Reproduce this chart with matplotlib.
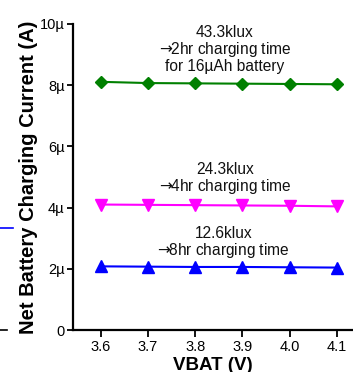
import matplotlib
matplotlib.use("Agg")
import matplotlib.pyplot as plt
from matplotlib.lines import Line2D

plt.rcParams['font.family'] = ['Liberation Sans', 'DejaVu Sans']
plt.rcParams['mathtext.fontset'] = 'dejavusans'

vbat = [3.6, 3.7, 3.8, 3.9, 4.0, 4.1]
i_433 = [8.11, 8.07, 8.06, 8.05, 8.04, 8.03]   # µA
i_243 = [4.10, 4.09, 4.08, 4.07, 4.06, 4.04]
i_126 = [2.08, 2.07, 2.06, 2.06, 2.05, 2.04]
xticks = [3.6, 3.7, 3.8, 3.9, 4.0, 4.1]
xtick_labels = ["3.6", "3.7", "3.8", "3.9", "4.0", "4.1"]
yticks = [0, 2, 4, 6, 8, 10]
ytick_labels = ["0", "2µ", "4µ", "6µ", "8µ", "10µ"]
notes = ["43.3klux\n$\\!\\rightarrow\\!\\!$2hr charging time\nfor 16µAh battery",
         "24.3klux\n$\\!\\rightarrow\\!\\!$4hr charging time",
         "12.6klux\n$\\!\\rightarrow\\!\\!$8hr charging time"]
note_pos = [(3.863, 9.17), (3.863, 4.92), (3.86, 2.83)]

fig = plt.figure(figsize=(3.53, 3.72), dpi=100)
ax = fig.add_axes([73/353, 1-330/372, 1-73/353, (330-24)/372])

ax.plot(vbat, i_433, color='#008000', lw=1.5, marker='D', ms=6.5, clip_on=False)
ax.plot(vbat, i_243, color='#FF00FF', lw=1.5, marker='v', ms=8, clip_on=False)
ax.plot(vbat, i_126, color='#0000FF', lw=1.5, marker='^', ms=8, clip_on=False)

for txt, (x, y) in zip(notes, note_pos):
    ax.text(x, y, txt, ha='center', va='center', multialignment='center',
            fontsize=11.2, linespacing=1.0, color='#111111')

ax.set_xlim(3.541, 4.1345)
ax.set_ylim(0, 10)
ax.set_xticks(xticks)
ax.set_xticklabels(xtick_labels)
ax.set_yticks(yticks)
ax.set_yticklabels(ytick_labels)
ax.tick_params(axis='x', length=5, width=1.3, pad=2.5, labelsize=10.5, direction='out')
ax.tick_params(axis='y', length=4.5, width=1.3, pad=1.5, labelsize=10.5, direction='out')
for s in ['top', 'right']:
    ax.spines[s].set_visible(False)
for s in ['left', 'bottom']:
    ax.spines[s].set_linewidth(1.6)

ax.set_xlabel("VBAT (V)", fontsize=13.5, fontweight='bold', labelpad=1.5)
ax.set_ylabel("Net Battery Charging Current (A)", fontsize=14.5, fontweight='bold', labelpad=1.5)

# fragments of the neighbouring panel at the left edge
fig.add_artist(Line2D([0, 13/353], [1-228/372, 1-228/372], color='#0000FF', lw=1.2))
fig.add_artist(Line2D([0, 7/353], [1-330/372, 1-330/372], color='black', lw=1.2))

fig.savefig("out.png", dpi=100)
